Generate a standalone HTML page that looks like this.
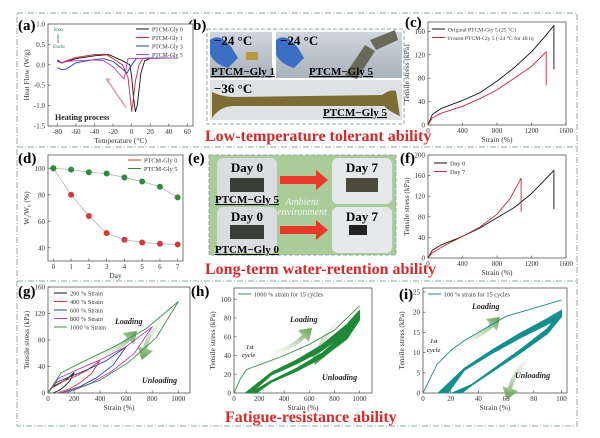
<!DOCTYPE html>
<html><head><meta charset="utf-8"><style>
body{margin:0;background:#fff;}
svg{display:block;font-family:"Liberation Serif",serif;}
</style></head><body>
<svg id="fig" width="600" height="438" viewBox="0 0 600 438" xmlns="http://www.w3.org/2000/svg">
<defs>
<linearGradient id="photoG" x1="0" y1="0" x2="0" y2="1"><stop offset="0" stop-color="#cfd6de"/><stop offset="1" stop-color="#a9b1ba"/></linearGradient>
<linearGradient id="arrG" x1="0" y1="1" x2="1" y2="0"><stop offset="0" stop-color="#e8f1e2" stop-opacity="0.2"/><stop offset="1" stop-color="#5f9d4c"/></linearGradient>
</defs>
<g fill="none" stroke="#8fa7ab" stroke-width="1" stroke-dasharray="6,2,1,2">
<rect x="17" y="13" width="560" height="413"/>
<line x1="17" y1="147" x2="577" y2="147"/>
<line x1="17" y1="281" x2="577" y2="281"/>
</g>
<g>
<rect x="207" y="29" width="197" height="95" fill="none" stroke="#8fa7ab" stroke-dasharray="4,2"/>
<rect x="210" y="32" width="62" height="46" fill="url(#photoG)"/>
<rect x="246" y="52" width="12" height="8" fill="#b99a3a"/>
<path d="M210 40 q10 -8 22 8 l6 10 l-10 10 q-14 -4 -18 -14z" fill="#3b6fc4"/>
<rect x="276" y="32" width="126" height="46" fill="url(#photoG)"/>
<path d="M276 40 q10 -8 22 8 l6 10 l-10 10 q-14 -4 -18 -14z" fill="#3b6fc4"/>
<path d="M345 75 l20 -30 l10 6 l-18 28z M370 40 l25 -10 l3 10 l-22 10z" fill="#6a6a5a"/>
<rect x="210" y="80" width="192" height="40" fill="#dfe2e4"/>
<path d="M212 92 q8 4 20 5 l150 -2 q8 -6 14 -4 l4 25 q-10 -4 -16 -10 l-150 0 q-14 0 -22 12z" fill="#7d6d35"/>
<text x="214" y="45" font-size="13" font-weight="bold">−24 °C</text>
<text x="280" y="45" font-size="13" font-weight="bold">−24 °C</text>
<text x="211" y="75" font-size="11" font-weight="bold" text-decoration="underline">PTCM−Gly 1</text>
<text x="309" y="75" font-size="11" font-weight="bold" text-decoration="underline">PTCM−Gly 5</text>
<text x="214" y="93" font-size="13" font-weight="bold">−36 °C</text>
<text x="323" y="116" font-size="11" font-weight="bold" text-decoration="underline">PTCM−Gly 5</text>
</g>
<text x="205" y="141" font-size="16" font-weight="bold" fill="#d42a2a">Low-temperature tolerant ability</text>
<g>
<rect x="209" y="155" width="187" height="100" fill="#a9cc98" stroke="#8fa7ab" stroke-dasharray="4,2"/>
<rect x="217" y="158" width="60" height="46" rx="6" fill="#d9dde0"/>
<rect x="230" y="178" width="34" height="14" fill="#3a3e38"/>
<rect x="217" y="207" width="60" height="46" rx="6" fill="#d9dde0"/>
<rect x="230" y="225" width="34" height="14" fill="#3a3e38"/>
<rect x="332" y="158" width="60" height="46" rx="6" fill="#e6e9ea"/>
<rect x="346" y="178" width="32" height="14" fill="#4b4a3c"/>
<rect x="332" y="207" width="60" height="46" rx="6" fill="#e6e9ea"/>
<rect x="349" y="225" width="18" height="10" fill="#222"/>
<path d="M280 176 h36 v-6 l12 10 l-12 10 v-6 h-36z" fill="#e83a2a"/>
<path d="M280 226 h36 v-6 l12 10 l-12 10 v-6 h-36z" fill="#e83a2a"/>
<text x="302" y="205" font-size="10" font-style="italic" fill="#f3f3f3" text-anchor="middle">Ambient</text>
<text x="302" y="215" font-size="10" font-style="italic" fill="#f3f3f3" text-anchor="middle">environment</text>
<text x="247" y="172" font-size="13" font-weight="bold" text-anchor="middle">Day 0</text>
<text x="247" y="221" font-size="13" font-weight="bold" text-anchor="middle">Day 0</text>
<text x="362" y="172" font-size="13" font-weight="bold" text-anchor="middle">Day 7</text>
<text x="362" y="221" font-size="13" font-weight="bold" text-anchor="middle">Day 7</text>
<text x="215" y="203" font-size="11" font-weight="bold" text-decoration="underline">PTCM−Gly 5</text>
<text x="215" y="253" font-size="11" font-weight="bold" text-decoration="underline">PTCM−Gly 0</text>
</g>
<text x="205" y="274" font-size="16" font-weight="bold" fill="#d42a2a">Long-term water-retention ability</text>
<text x="225" y="422" font-size="16" font-weight="bold" fill="#d42a2a">Fatigue-resistance ability</text>
<g font-size="15" font-weight="bold">
<text x="18" y="30">(a)</text><text x="188" y="30">(b)</text><text x="405" y="27">(c)</text>
<text x="18" y="163">(d)</text><text x="188" y="163">(e)</text><text x="400" y="163">(f)</text>
<text x="18" y="296">(g)</text><text x="191" y="296">(h)</text><text x="399" y="299">(i)</text>
</g>
<g id="charts"></g>
</svg>
<script>
// ---------- data ----------
const dscT0=[-80,-75,-70,-60,-40,-25,-20,-10,-2,0,2,4,6,8,10,14,20,50];
const dscH0=[0.1,0.05,0.08,0.15,0.22,0.25,0.2,0.1,0,-0.3,-0.8,-1.15,-1.0,-0.6,-0.2,0.1,0.16,0.17];
const dscT1=[-80,-75,-70,-60,-40,-28,-20,-10,-4,-2,0,2,4,8,12,20,50];
const dscH1=[0.12,0.05,0.1,0.18,0.25,0.26,0.15,0,-0.3,-0.7,-1.15,-0.8,-0.4,0,0.15,0.17,0.17];
const dscT3=[-80,-75,-70,-60,-40,-30,-20,-10,-5,0,5,20,50];
const dscH3=[-0.07,-0.12,-0.1,0.05,0.13,0.15,0.08,-0.1,-0.2,0,0.15,0.17,0.17];
const dscT5=[-80,-75,-70,-60,-40,-30,-20,-12,-8,-6,-4,20,50];
const dscH5=[0.08,0.04,0.08,0.1,0.12,0.1,-0.05,-0.25,-0.35,-0.1,0.15,0.16,0.17];
const aXTicks=[-80,-60,-40,-20,0,20,40,60];
const aYTicks=[1.0,0.5,0.0,-0.5,-1.0,-1.5];
const cStrainA=[0,50,150,400,600,800,1000,1200,1350,1460,1460];
const cStressA=[0,18,28,42,55,75,98,125,150,170,95];
const cStrainB=[0,50,150,400,600,800,1000,1200,1370,1370];
const cStressB=[0,12,20,32,45,60,80,100,125,68];
const cXTicks=[0,400,800,1200,1600];
const cYTicks=[0,40,80,120,160];
const days=[0,1,2,3,4,5,6,7];
const gly0Ret=[100,80,64,51,46,44,43,42.5];
const gly5Ret=[100,99,97,96,93,90,86,78];
const dYTicks=[40,60,80,100];
const fStrain0=[0,50,150,400,600,800,1000,1200,1460,1460];
const fStress0=[0,15,25,42,58,78,98,125,170,95];
const fStrain7=[0,50,200,400,600,800,950,1080,1080];
const fStress7=[0,10,25,42,60,85,115,155,90];
const fYTicks=[0,40,80,120,160,200];
const gMax=[200,400,600,800,1000];
const gPeak=[31,49,70,100,138];
const gResid=[40,70,95,115,140];
const gLoadFrac=[0,0.1,0.25,0.5,0.75,1];
const gLoadShape=[0,0.22,0.33,0.5,0.7,1];
const gUnloadFrac=[0.8,0.55,0.3,0];
const gUnloadShape=[0.6,0.33,0.14,0];
const gYTicks=[0,40,80,120,160];
const gXTicks=[0,200,400,600,800,1000];
const hFirstStrain=[0,50,100,200,400,600,800,1000];
const hFirstStress=[0,15,25,30,40,52,67,93];
const hPeaks=[88,87,86,85,84,83,82,82,81,81,80,80,79,79,78];
const hResid=[90,95,100,105,110,115,118,120,123,125,127,129,130,132,135];
const hLoadX=[300,500,700,900,1000];
const hLoadShape=[0.25,0.4,0.58,0.83,1];
const hUnloadX=[900,700,500,300];
const hUnloadShape=[0.74,0.48,0.3,0.15];
const hYTicks=[0,20,40,60,80,100];
const iFirstStrain=[0,10,20,30,40,50,60,80,100];
const iFirstStress=[0,7,10.5,13,15,17,19,21,23];
const iPeaks=[20.5,20.3,20.1,20,19.9,19.8,19.7,19.6,19.5,19.4,19.3,19.2,19.1,19,18.9];
const iResid=[11,11.5,12,12.5,13,13.5,14,14.5,15,15.5,16,16.5,17,17.5,18];
const iLoadX=[30,50,70,90,100];
const iLoadShape=[0.3,0.52,0.72,0.9,1];
const iUnloadX=[90,70,50,35];
const iUnloadShape=[0.78,0.52,0.28,0.1];
const iXTicks=[0,20,40,60,80,100];
const iYTicks=[0,5,10,15,20,25];

const NS="http://www.w3.org/2000/svg";
const root=document.getElementById('charts');
function el(tag,attrs,parent){const e=document.createElementNS(NS,tag);for(const k in attrs)e.setAttribute(k,attrs[k]);(parent||root).appendChild(e);return e;}
function panel(name,px0,px1,py0,py1,dx0,dx1,dy0,dy1,xt,yt,xTitle,yTitle){
  const g=el('g',{});
  
  
  const sx=v=>px0+(v-dx0)/(dx1-dx0)*(px1-px0);
  const sy=v=>py1-(v-dy0)/(dy1-dy0)*(py1-py0);
  const fr=el('rect',{x:px0,y:py0,width:px1-px0,height:py1-py0,fill:'#fff',stroke:'#555','stroke-width':0.8},g);
  
  
  xt.forEach(v=>{const x=sx(v);el('line',{x1:x,x2:x,y1:py1,y2:py1-2.5,stroke:'#555','stroke-width':0.7},g);
    const t=el('text',{x:x,y:py1+8,'font-size':7,'text-anchor':'middle',fill:'#333'},g);t.textContent=v;
    
    });
  yt.forEach(v=>{const y=sy(v);el('line',{x1:px0,x2:px0+2.5,y1:y,y2:y,stroke:'#555','stroke-width':0.7},g);
    const t=el('text',{x:px0-3,y:y+2.5,'font-size':7,'text-anchor':'end',fill:'#333'},g);t.textContent=(yt.some(q=>q%1!==0))?v.toFixed(1):v;
    
    });
  const xtT=el('text',{x:(px0+px1)/2,y:py1+17,'font-size':7.5,'text-anchor':'middle',fill:'#333'},g);xtT.textContent=xTitle;
  
  
  const cy=(py0+py1)/2,cx=px0-19;
  const ytT=el('text',{x:cx,y:cy,'font-size':7.5,'text-anchor':'middle',fill:'#333',transform:`rotate(-90 ${cx} ${cy})`},g);ytT.innerHTML=yTitle;
  
  
  return {g,sx,sy};
}
function line(p,xs,ys,color,name,w){
  const d=xs.map((x,i)=>(i?'L':'M')+p.sx(x).toFixed(1)+' '+p.sy(ys[i]).toFixed(1)).join(' ');
  const e=el('path',{d:d,fill:'none',stroke:color,'stroke-width':w||0.9,'stroke-linejoin':'round'},p.g);
  
  
  return e;
}
function legend(g,x,y,items,fs){
  items.forEach((it,i)=>{const yy=y+i*8.5;
    el('line',{x1:x,x2:x+13,y1:yy,y2:yy,stroke:it[1],'stroke-width':1},g);
    const t=el('text',{x:x+16,y:yy+2.3,'font-size':fs||6.3,fill:'#333'},g);t.textContent=it[0];
    
    });
}
function bigArrow(g,x,y,rot,lbl,lx,ly){
  el('path',{d:'M0 0 q18 -4 30 -16 l-4 -5 l14 -2 l-3 14 l-4 -4 q-14 14 -33 17z',fill:'url(#arrG)',transform:`translate(${x} ${y}) rotate(${rot})`},g);
  const t=el('text',{x:lx,y:ly,'font-size':8,'font-weight':'bold','font-style':'italic',fill:'#222'},g);t.textContent=lbl;
  
  
}
function cycleLoop(p,r,pk,lx,ls,ux,us,endX,color,name,w){
  const xs=[r].concat(lx,ux,[endX]);
  const ys=[0].concat(ls.map(f=>f*pk),us.map(f=>f*pk),[0]);
  return line(p,xs,ys,color,name,w);
}
// (a)
{const p=panel('chart-a-dsc',48,193,24,126,-90,66,-1.5,1.0,aXTicks,aYTicks,'Temperature (°C)','Heat Flow (W/g)');
 line(p,dscT0,dscH0,'#111','series-gly0');line(p,dscT1,dscH1,'#c8283a','series-gly1');
 line(p,dscT3,dscH3,'#2b3f9a','series-gly3');line(p,dscT5,dscH5,'#b43fc0','series-gly5');
 legend(p.g,136,29,[['PTCM-Gly 0','#111'],['PTCM-Gly 1','#c8283a'],['PTCM-Gly 3','#2b3f9a'],['PTCM-Gly 5','#b43fc0']],5.8);
 el('line',{x1:p.sx(-6),y1:p.sy(-1.05),x2:p.sx(-27),y2:p.sy(-0.35),stroke:'#e598a8','stroke-width':1.5},p.g);
 el('path',{d:`M${p.sx(-28)} ${p.sy(-0.32)} l5 1 l-3 4z`,fill:'#e598a8'},p.g);
 const h=el('text',{x:55,y:120,'font-size':8,'font-weight':'bold',fill:'#222'},p.g);h.textContent='Heating process';
 
 
 const e1=el('text',{x:54,y:31,'font-size':5.5,fill:'#2a7a6a'},p.g);e1.textContent='Exo';
 const e2=el('text',{x:53,y:48,'font-size':5.5,fill:'#2a7a6a'},p.g);e2.textContent='Endo';
 el('line',{x1:58,x2:58,y1:34,y2:43,stroke:'#2a7a6a','stroke-width':0.8},p.g);}
// (c)
{const p=panel('chart-c-tensile',428,566,22,125,0,1600,0,176,cXTicks,cYTicks,'Strain (%)','Tensile stress (kPa)');
 line(p,cStrainA,cStressA,'#111','series-original');line(p,cStrainB,cStressB,'#c8283a','series-frozen');
 legend(p.g,432,29,[['Original PTCM-Gly 5 (25 °C)','#111'],['Frozen PTCM-Gly 5 (-24 °C for 48 h)','#c8283a']],5.6);}
// (d)
{const p=panel('chart-d-retention',48,183,155,261,-0.3,7.3,30,110,days,dYTicks,'Day','W<tspan font-size="5" dy="2">t</tspan><tspan dy="-2">/W</tspan><tspan font-size="5" dy="2">0</tspan><tspan dy="-2"> (%)</tspan>');
 line(p,days,gly0Ret,'#aaa','series-gly0-line',0.7);line(p,days,gly5Ret,'#aaa','series-gly5-line',0.7);
 days.forEach((d,i)=>{const c=el('circle',{cx:p.sx(d),cy:p.sy(gly0Ret[i]),r:3,fill:'#d33a3a'},p.g);
   
   
   const c2=el('circle',{cx:p.sx(d),cy:p.sy(gly5Ret[i]),r:3,fill:'#2e8a3e'},p.g);
   
   });
 legend(p.g,128,160,[['PTCM-Gly 0','#d33a3a'],['PTCM-Gly 5','#2e8a3e']],6.3);}
// (f)
{const p=panel('chart-f-tensile',428,566,155,258,0,1600,0,200,cXTicks,fYTicks,'Strain (%)','Tensile stress (kPa)');
 line(p,fStrain0,fStress0,'#111','series-day0');line(p,fStrain7,fStress7,'#c8283a','series-day7');
 legend(p.g,434,163,[['Day 0','#111'],['Day 7','#c8283a']],6.3);}
// (g)
{const p=panel('chart-g-cyclic',48,190,287,393,0,1090,0,160,gXTicks,gYTicks,'Strain (%)','Tensile stress (kPa)');
 const cols=['#111','#d33a3a','#2b3f9a','#b43fc0','#3f8f4a'];
 bigArrow(p.g,97,354,0,'Loading',115,324);bigArrow(p.g,165,320,150,'Unloading',142,383);
 gMax.forEach((m,i)=>{const xs=[],ys=[];
   gLoadFrac.forEach((f,k)=>{xs.push(m*f);ys.push(gPeak[i]*gLoadShape[k]);});
   const r=gResid[i];gUnloadFrac.forEach((f,k)=>{xs.push(r+(m-r)*f);ys.push(gPeak[i]*gUnloadShape[k]);});
   line(p,xs,ys,cols[i],'loop-'+m+'-strain');});
 legend(p.g,54,293,gMax.map((m,i)=>[m+' % Strain',cols[i]]),6.3);}
// (h)
{const p=panel('chart-h-fatigue',234,372,288,393,0,1100,0,112,gXTicks,hYTicks,'Strain (%)','Tensile stress (kPa)');
 bigArrow(p.g,272,351,0,'Loading',290,322);bigArrow(p.g,338,325,150,'Unloading',322,380);
 line(p,hFirstStrain,hFirstStress,'#3f8f4a','first-cycle-loading');
 hPeaks.forEach((pk,i)=>{cycleLoop(p,hResid[i],pk,hLoadX,hLoadShape,hUnloadX,hUnloadShape,hResid[i]+40,'#1e8a38','cycle-'+(i+1),1.1);});
 legend(p.g,238,294,[['1000 % strain for 15 cycles','#3f8f4a']],6.3);
 const c=el('text',{x:246,y:349,'font-size':6.5,'font-style':'italic'},p.g);c.textContent='1st';
 const c2=el('text',{x:242,y:357,'font-size':6.5,'font-style':'italic'},p.g);c2.textContent='cycle';}
// (i)
{const p=panel('chart-i-fatigue',423,567,288,393,0,104,0,26,iXTicks,iYTicks,'Strain (%)','Tensile stress (kPa)');
 bigArrow(p.g,460,340,0,'Loading',472,309);bigArrow(p.g,530,360,150,'Unloading',515,378);
 line(p,iFirstStrain,iFirstStress,'#1f8a8a','first-cycle-loading');
 iPeaks.forEach((pk,i)=>{cycleLoop(p,iResid[i],pk,iLoadX,iLoadShape,iUnloadX,iUnloadShape,iResid[i]+10,'#15908f','cycle-'+(i+1),1.1);});
 legend(p.g,428,294,[['100 % strain for 15 cycles','#1f8a8a']],6.3);
 const c=el('text',{x:430,y:343,'font-size':6.5,'font-style':'italic'},p.g);c.textContent='1st';
 const c2=el('text',{x:427,y:352,'font-size':6.5,'font-style':'italic'},p.g);c2.textContent='cycle';}
</script>
</body></html>
